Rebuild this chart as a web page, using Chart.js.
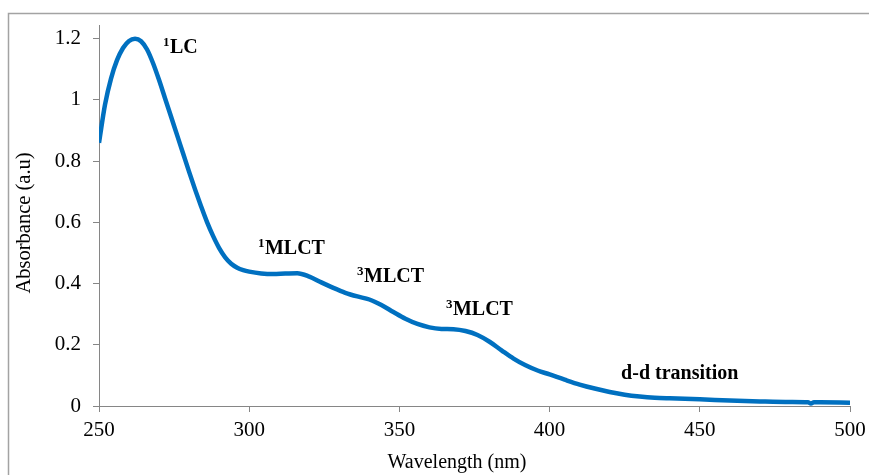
<!DOCTYPE html>
<html>
<head>
<meta charset="utf-8">
<script src="https://cdn.jsdelivr.net/npm/chart.js@4.4.0/dist/chart.umd.min.js"></script>
<style>
html,body{margin:0;padding:0;background:#fff;overflow:hidden}
#wrap{width:869px;height:475px;position:relative}
</style>
</head>
<body>
<div id="wrap"><canvas id="c" width="869" height="475"></canvas></div>
<script>
// Wavelength (nm) and absorbance (a.u.)
const wavelength = [250,252,254,256,258,260,262,264,266,268,270,272,274,276,278,280,282,284,286,288,290,292,294,296,298,300,304,308,312,316,320,324,328,332,336,340,344,348,352,356,360,364,368,372,376,380,384,388,392,396,400,405,410,415,420,425,430,435,440,450,460,470,480,486,487,488,490,500];
const absorbance = [0.86,0.985,1.07,1.13,1.17,1.193,1.2,1.192,1.165,1.12,1.065,1.005,0.945,0.885,0.825,0.765,0.707,0.652,0.6,0.555,0.516,0.486,0.465,0.452,0.444,0.439,0.433,0.431,0.433,0.434,0.423,0.404,0.386,0.37,0.358,0.348,0.33,0.307,0.285,0.268,0.257,0.252,0.251,0.245,0.232,0.21,0.182,0.155,0.133,0.116,0.103,0.086,0.07,0.057,0.046,0.037,0.031,0.027,0.025,0.022,0.018,0.015,0.013,0.012,0.008,0.012,0.012,0.011];

const xTickValues = [250,300,350,400,450,500];
const yTickValues = [0,0.2,0.4,0.6,0.8,1,1.2];
const yTickLabels = ['0','0.2','0.4','0.6','0.8','1','1.2'];
const xTitle = 'Wavelength (nm)';
const yTitle = 'Absorbance (a.u)';

// Band labels: superscript, text, anchor (nm, absorbance) of the label's left/middle
const bandLabels = [
  {sup:'1', text:'LC',            nm:271.3, abs:1.174},
  {sup:'1', text:'MLCT',          nm:302.9, abs:0.517},
  {sup:'3', text:'MLCT',          nm:335.9, abs:0.425},
  {sup:'3', text:'MLCT',          nm:365.5, abs:0.32},
  {sup:'',  text:'d-d transition',nm:423.8, abs:0.111}
];

const FONT = '"Liberation Serif", "Times New Roman", serif';

const decor = {
  id: 'decor',
  beforeDraw(chart) {
    const ctx = chart.ctx;
    ctx.save();
    ctx.strokeStyle = '#a3a3a3';
    ctx.lineWidth = 1.5;
    ctx.beginPath();
    ctx.moveTo(8.5, 480);
    ctx.lineTo(8.5, 13.5);
    ctx.lineTo(880, 13.5);
    ctx.stroke();
    ctx.restore();
  },
  afterDraw(chart) {
    const ctx = chart.ctx;
    const xs = chart.scales.x, ys = chart.scales.y;
    ctx.save();
    ctx.fillStyle = '#000';
    // axis titles
    ctx.font = '20px ' + FONT;
    ctx.textAlign = 'center';
    ctx.textBaseline = 'middle';
    ctx.fillText(xTitle, 457, 463);
    ctx.save();
    ctx.translate(25, 223);
    ctx.rotate(-Math.PI / 2);
    ctx.font = '20.5px ' + FONT;
    ctx.fillText(yTitle, 0, 0);
    ctx.restore();
    // band labels
    ctx.textAlign = 'left';
    ctx.textBaseline = 'alphabetic';
    bandLabels.forEach(l => {
      let px = xs.getPixelForValue(l.nm);
      const py = ys.getPixelForValue(l.abs);
      const base = py + 6.5;
      if (l.sup) {
        ctx.font = 'bold 13px ' + FONT;
        ctx.fillText(l.sup, px, base - 7);
        px += ctx.measureText(l.sup).width + 0.5;
      }
      ctx.font = 'bold 20px ' + FONT;
      ctx.fillText(l.text, px, base);
    });
    ctx.restore();
  }
};

const axisColor = '#868686';

new Chart(document.getElementById('c'), {
  type: 'line',
  data: {
    datasets: [{
      data: wavelength.map((w, i) => ({x: w, y: absorbance[i]})),
      borderColor: '#0070c0',
      borderWidth: 4.5,
      pointRadius: 0,
      fill: false,
      cubicInterpolationMode: 'monotone'
    }]
  },
  options: {
    responsive: false,
    animation: false,
    devicePixelRatio: 1,
    layout: {padding: {left: 0, top: 25, right: 19, bottom: 0}},
    plugins: {legend: {display: false}, tooltip: {enabled: false}},
    scales: {
      x: {
        type: 'linear',
        min: 250, max: 500,
        afterBuildTicks: s => { s.ticks = xTickValues.map(v => ({value: v})); },
        afterFit: s => { s.height = 69; s.paddingLeft = 0; s.paddingRight = 0; },
        grid: {drawOnChartArea: false, drawTicks: true, tickLength: 6, color: axisColor, lineWidth: 1},
        border: {display: true, color: axisColor, width: 1},
        ticks: {font: {family: FONT, size: 21}, color: '#000', padding: 6, maxRotation: 0, autoSkip: false,
                callback: v => String(v)}
      },
      y: {
        type: 'linear',
        min: 0, max: 1.245,
        afterBuildTicks: s => { s.ticks = yTickValues.map(v => ({value: v})); },
        afterFit: s => { s.width = 99; s.paddingTop = 0; s.paddingBottom = 0; },
        grid: {drawOnChartArea: false, drawTicks: true, tickLength: 6, color: axisColor, lineWidth: 1},
        border: {display: true, color: axisColor, width: 1},
        ticks: {font: {family: FONT, size: 21}, color: '#000', padding: 12, autoSkip: false,
                callback: (v) => yTickLabels[yTickValues.indexOf(v)] ?? String(v)}
      }
    }
  },
  plugins: [decor]
});
</script>
</body>
</html>
